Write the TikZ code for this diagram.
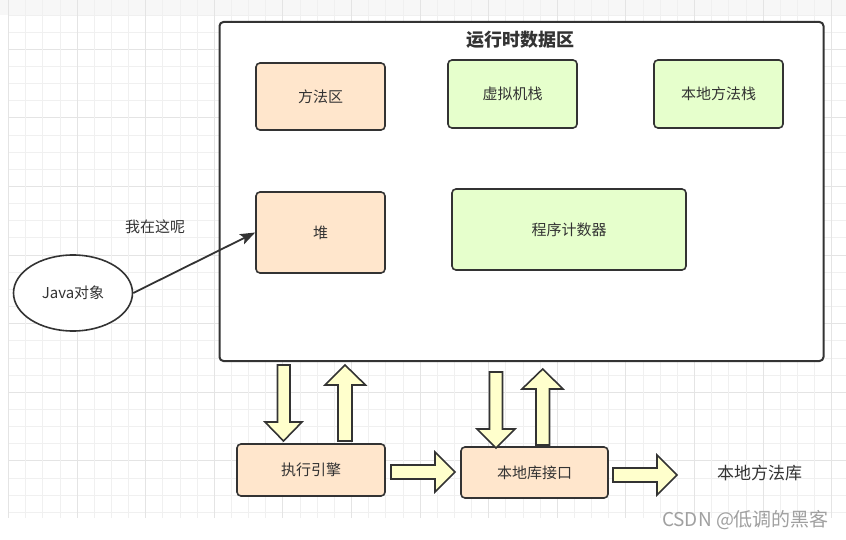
\documentclass[tikz,border=0pt]{standalone}
\usepackage{fontspec}
\setmainfont{Noto Sans CJK SC}
\usetikzlibrary{arrows.meta,shapes.geometric}
\definecolor{peach}{HTML}{FFE6CC}
\definecolor{lgreen}{HTML}{E6FFCC}
\definecolor{lyellow}{HTML}{FFFFCC}
\definecolor{strk}{HTML}{333333}
\definecolor{txt}{HTML}{333333}
\definecolor{gridminor}{HTML}{F0F0F0}
\definecolor{gridmajor}{HTML}{E4E4E4}
\definecolor{wm}{HTML}{A0A0A0}
\tikzset{
  boxbase/.style={draw=strk,line width=1.6pt,rounded corners=4pt,inner sep=0pt,
    text=txt,font=\fontsize{15}{17}\selectfont},
  peachbox/.style={boxbase,fill=peach},
  greenbox/.style={boxbase,fill=lgreen},
  blockarrow/.style={draw=strk,line width=1.6pt,fill=lyellow,line join=miter},
  conn/.style={draw=strk,line width=1.8pt,-{Stealth[length=15pt,width=11pt,inset=3pt]}},
  plaintext/.style={text=txt,inner sep=0pt,font=\fontsize{15}{17}\selectfont},
}
\begin{document}
\begin{tikzpicture}[x=1pt,y=-1pt]
\useasboundingbox (0,0) rectangle (846,540);
\fill[white] (0,0) rectangle (846,540);
\fill[black!3] (0,0) rectangle (846,15);
% grid
\foreach \k in {0,...,29}{
  \pgfmathsetmacro{\yy}{15+17.15*\k}
  \pgfmathtruncatemacro{\m}{mod(\k,4)}
  \ifnum\m=2
    \draw[gridmajor,line width=0.9pt] (8.5,\yy) -- (846,\yy);
  \else
    \draw[gridminor,line width=0.9pt] (8.5,\yy) -- (846,\yy);
  \fi
}
\foreach \k in {0,...,48}{
  \pgfmathsetmacro{\xx}{8.5+17.15*\k}
  \pgfmathtruncatemacro{\m}{mod(\k,4)}
  \ifnum\m=0
    \draw[gridmajor,line width=0.9pt] (\xx,0) -- (\xx,518);
  \else
    \draw[gridminor,line width=0.9pt] (\xx,0) -- (\xx,518);
  \fi
}
% main area
\node[draw=strk,line width=2pt,fill=white,rounded corners=4pt,minimum width=604pt,minimum height=339pt,inner sep=0pt] (rt) at (521.5,191.5) {};
\node[text=txt,font=\fontsize{18}{21}\selectfont\bfseries] (title) at (520,40) {运行时数据区};
% inner boxes
\node[peachbox,minimum width=129pt,minimum height=67pt] (method) at (320.5,96.5) {方法区};
\node[greenbox,minimum width=129pt,minimum height=68pt] (vmstack) at (512.5,94) {虚拟机栈};
\node[greenbox,minimum width=129pt,minimum height=68pt] (nstack) at (718.5,94) {本地方法栈};
\node[peachbox,minimum width=129pt,minimum height=81pt] (heap) at (320.5,232.5) {堆};
\node[greenbox,minimum width=234pt,minimum height=81pt] (pc) at (569,229.5) {程序计数器};
% Java object
\node[draw=strk,line width=1.6pt,fill=white,ellipse,minimum width=119pt,minimum height=76pt,inner sep=0pt,text=txt,font=\fontsize{15}{17}\selectfont] (java) at (73,293) {Java对象};
\node[plaintext] (here) at (155,227) {我在这呢};
\draw[conn] (java.east) -- (heap.west);
% bottom boxes
\node[peachbox,minimum width=148pt,minimum height=52pt] (engine) at (311,470) {执行引擎};
\node[peachbox,minimum width=147pt,minimum height=51pt] (nif) at (534.5,472.5) {本地库接口};
\node[text=txt,inner sep=0pt,font=\fontsize{17}{19}\selectfont] (nlib) at (759.5,473) {本地方法库};
% block arrows
\draw[blockarrow] (277.5,365) -- (290,365) -- (290,422) -- (302,422) -- (283.5,441) -- (265,422) -- (277.5,422) -- cycle;
\draw[blockarrow] (338,441) -- (352,441) -- (352,385) -- (365.5,385) -- (345,365) -- (325,385) -- (338,385) -- cycle;
\draw[blockarrow] (489.5,372) -- (502.5,372) -- (502.5,429) -- (515,429) -- (496,448) -- (477,429) -- (489.5,429) -- cycle;
\draw[blockarrow] (536,445) -- (549.5,445) -- (549.5,389) -- (563,389) -- (542.7,369) -- (522,389) -- (536,389) -- cycle;
\draw[blockarrow] (391,465) -- (435,465) -- (435,452) -- (455,472) -- (435,492) -- (435,479) -- (391,479) -- cycle;
\draw[blockarrow] (613,468) -- (657,468) -- (657,455) -- (677,475) -- (657,495) -- (657,482) -- (613,482) -- cycle;
% watermark
\node[text=wm,inner sep=0pt,font=\fontsize{19}{21}\selectfont] (wmark) at (745.5,520) {CSDN @低调的黑客};
\end{tikzpicture}
\end{document}
